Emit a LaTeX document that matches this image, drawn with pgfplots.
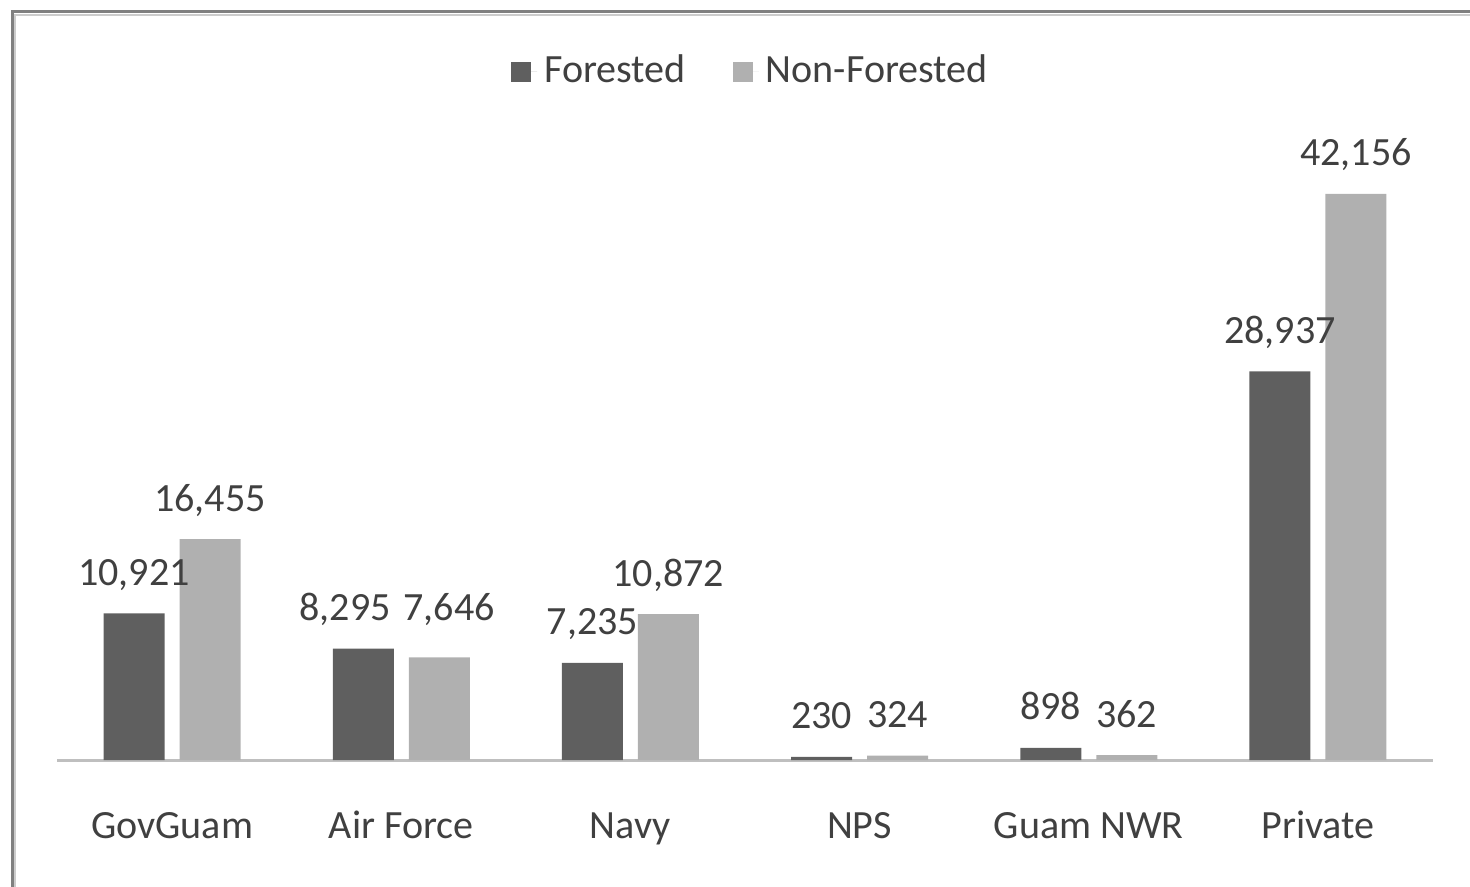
\documentclass[border=0pt]{standalone}
\usepackage{pgfplots}
\usepackage{pgfplotstable}
\usepackage{fontspec}
\setmainfont{Carlito}
\pgfplotsset{compat=1.18}
\definecolor{forest}{HTML}{5F5F5F}
\definecolor{nonforest}{HTML}{B0B0B0}
\definecolor{txt}{HTML}{404040}
\definecolor{baseln}{HTML}{BFBFBF}

% x = category index, dx/dy = label nudges in px (0.1 mm)
\pgfplotstableread{
x y dx dy
0 10921 0 0
1 8295 -18 0
2 7235 0 0
3 230 0 0
4 898 0 0
5 28937 0 0
}\forested
\pgfplotstableread{
x y dx dy
0 16455 0 0
1 7646 10 9
2 10872 0 0
3 324 0 0
4 362 0 0
5 42156 0 0
}\nonforested

\begin{document}
\begin{tikzpicture}
\fontsize{11.4}{13.7}\selectfont
\useasboundingbox (0,0) rectangle (147mm,88.6mm);
% outer frame (only top and left visible)
\draw[color=black!50, line width=0.3mm] (1.2mm,-2mm) -- (1.2mm,87.4mm) -- (149mm,87.4mm);
\draw[color=black!20, line width=0.2mm] (1.5mm,-2mm) -- (1.5mm,87.1mm) -- (149mm,87.1mm);

\begin{axis}[
    at={(5.75mm,12.6mm)}, anchor=south west,
    scale only axis,
    width=137.5mm, height=60.42mm,
    xmin=-0.5, xmax=5.5,
    ymin=0, ymax=45000,
    ybar=1.5mm,
    bar width=6.1mm,
    clip=false,
    axis y line=none,
    axis x line*=bottom,
    axis line style={color=baseln, line width=0.3mm, -},
    xtick={0,1,2,3,4,5},
    xticklabels={GovGuam, Air Force, Navy, NPS, Guam NWR, Private},
    major tick length=0pt,
    xticklabel style={anchor=base, yshift=-7.8mm, text=txt, font=\fontsize{11.4}{13.7}\selectfont},
    nodes near coords={\pgfmathprintnumber[fixed,precision=0,1000 sep={,},assume math mode=true]{\pgfplotspointmeta}},
    visualization depends on={\thisrow{dx} \as \dx},
    visualization depends on={\thisrow{dy} \as \dy},
    nodes near coords style={anchor=base, text=txt, xshift={\dx*0.1mm}, yshift={(28+\dy)*0.1mm},
        font=\fontsize{11.4}{13.7}\selectfont},
    legend columns=2,
    legend style={at={(0.5058,1.1387)}, anchor=center, draw=none, fill=none,
        text=txt, font=\fontsize{11.4}{13.7}\selectfont,
        /tikz/every even column/.append style={column sep=4mm}},
    legend image code/.code={\fill[#1] (0mm,-1mm) rectangle (2mm,1mm); \path (0mm,0mm) -- (2.6mm,0mm);},
]
\addplot[fill=forest, draw=none] table[x=x, y=y] {\forested};
\addplot[fill=nonforest, draw=none] table[x=x, y=y] {\nonforested};
\legend{Forested, Non-Forested}
\end{axis}
\end{tikzpicture}
\end{document}
